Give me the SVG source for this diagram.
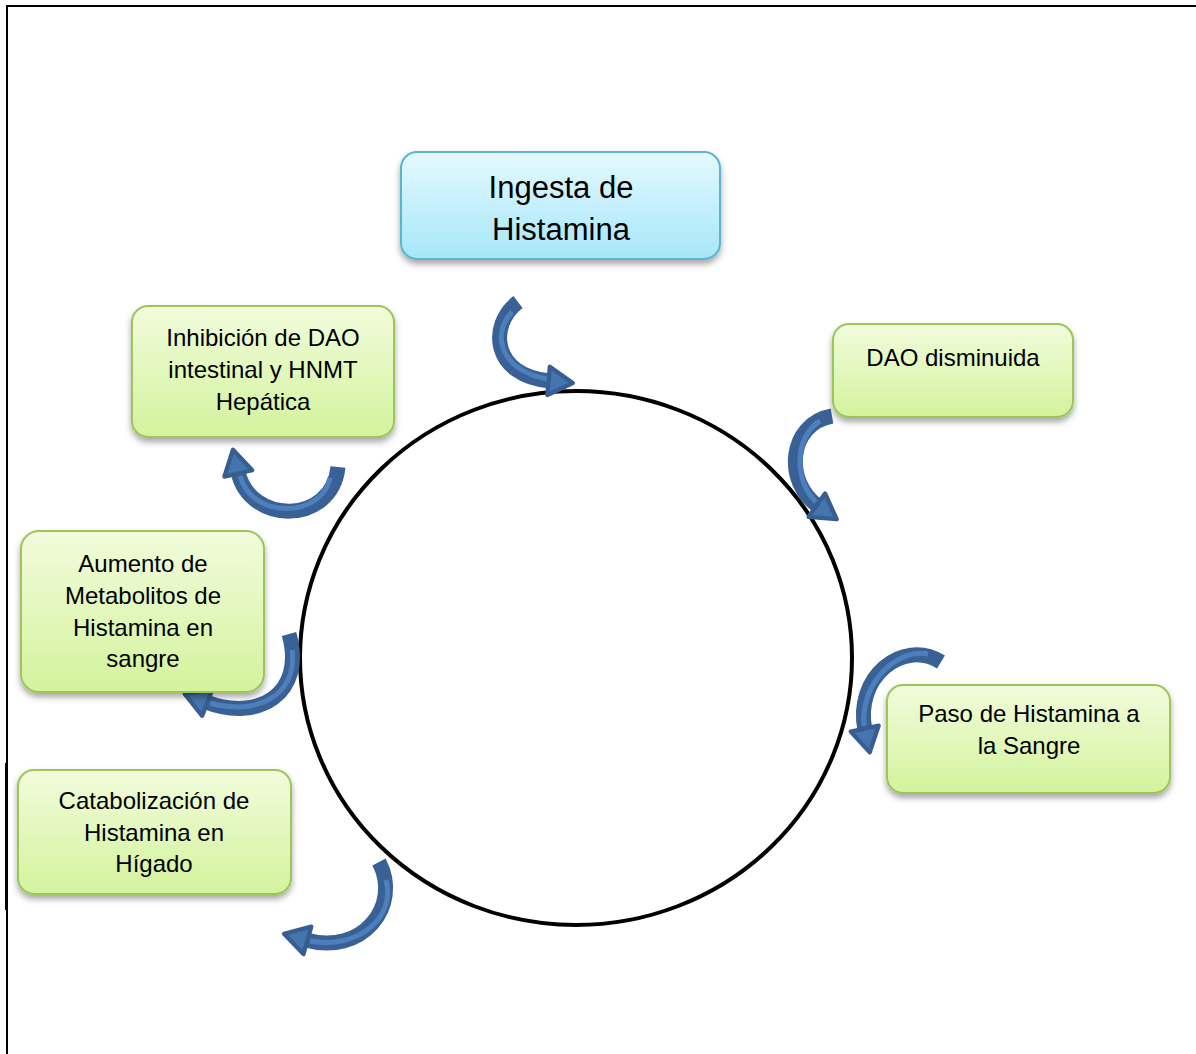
<svg xmlns="http://www.w3.org/2000/svg" width="1196" height="1054" viewBox="0 0 1196 1054">
<defs>
<linearGradient id="gGreen" x1="0" y1="0" x2="0" y2="1">
<stop offset="0" stop-color="#f1fcdc"/>
<stop offset="1" stop-color="#d3f39c"/>
</linearGradient>
<linearGradient id="gBlue" x1="0" y1="0" x2="0" y2="1">
<stop offset="0" stop-color="#e4f9fe"/>
<stop offset="1" stop-color="#a6e7f9"/>
</linearGradient>
<filter id="sh" x="-10%" y="-10%" width="120%" height="130%">
<feDropShadow dx="0" dy="4" stdDeviation="3" flood-color="#000" flood-opacity="0.35"/>
</filter>
<marker id="head" markerUnits="userSpaceOnUse" markerWidth="40" markerHeight="40" viewBox="-2 -14 24 28" refX="1" refY="0" orient="auto">
<path d="M0,-10 L17,0 L0,10 z" fill="#4674ad" stroke="#375e92" stroke-width="3" stroke-linejoin="round"/>
</marker>
<style>
.box{fill:url(#gGreen);stroke:#9cc659;stroke-width:2;filter:url(#sh)}
.bbox{fill:url(#gBlue);stroke:#5ab5cf;stroke-width:2;filter:url(#sh)}
.t{font-family:"Liberation Sans",Arial,sans-serif;font-size:24px;fill:#000;text-anchor:middle}
.tb{font-family:"Liberation Sans",Arial,sans-serif;font-size:31px;fill:#000;text-anchor:middle}
.aout{fill:none;stroke:#3a6196;stroke-width:15;stroke-linecap:butt}
.ain{fill:none;stroke:#4d7fbc;stroke-width:5;stroke-linecap:butt}
</style>
</defs>
<rect width="1196" height="1054" fill="#fff"/>
<path d="M7,1054 V6 H1196" fill="none" stroke="#000" stroke-width="2"/>
<line x1="6.5" y1="763" x2="6.5" y2="910" stroke="#000" stroke-width="3"/>
<ellipse cx="576" cy="658" rx="276" ry="267" fill="none" stroke="#000" stroke-width="4"/>
<g id="connectors">
<path class="aout" d="M518,302 C488,325 492,376 550,381" marker-end="url(#head)"/>
<path class="ain" d="M512,312 C492,332 498,370 547,379"/>
<path class="aout" d="M832,416 C788,424 784,482 818,506" marker-end="url(#head)"/>
<path class="ain" d="M820,421 C795,436 793,480 816,502"/>
<path class="aout" d="M941,662 C902,638 854,678 865,730" marker-end="url(#head)"/>
<path class="ain" d="M928,654 C896,648 860,684 864,726"/>
<path class="aout" d="M338,467 C332,525 250,525 238,472" marker-end="url(#head)"/>
<path class="ain" d="M330,478 C322,518 252,520 240,476"/>
<path class="aout" d="M289,634 C306,694 258,722 206,702" marker-end="url(#head)"/>
<path class="ain" d="M292,650 C298,696 256,716 210,703"/>
<path class="aout" d="M379,862 C402,906 362,956 306,940" marker-end="url(#head)"/>
<path class="ain" d="M386,880 C396,916 360,950 310,941"/>
</g>
<g id="n-ingesta">
<rect class="bbox" x="401" y="152" width="319" height="107" rx="16"/>
<text class="tb" x="561" y="198">Ingesta de</text>
<text class="tb" x="561" y="240">Histamina</text>
</g>
<g id="n-inhibicion">
<rect class="box" x="132" y="306" width="262" height="131" rx="16"/>
<text class="t" x="263" y="346">Inhibición de DAO</text>
<text class="t" x="263" y="378">intestinal y HNMT</text>
<text class="t" x="263" y="410">Hepática</text>
</g>
<g id="n-dao">
<rect class="box" x="833" y="324" width="240" height="93" rx="16"/>
<text class="t" x="953" y="366">DAO disminuida</text>
</g>
<g id="n-aumento">
<rect class="box" x="21" y="531" width="243" height="161" rx="18"/>
<text class="t" x="143" y="572">Aumento de</text>
<text class="t" x="143" y="604">Metabolitos de</text>
<text class="t" x="143" y="636">Histamina en</text>
<text class="t" x="143" y="667">sangre</text>
</g>
<g id="n-paso">
<rect class="box" x="887" y="685" width="283" height="108" rx="16"/>
<text class="t" x="1029" y="722">Paso de Histamina a</text>
<text class="t" x="1029" y="754">la Sangre</text>
</g>
<g id="n-catab">
<rect class="box" x="18" y="770" width="273" height="124" rx="16"/>
<text class="t" x="154" y="809">Catabolización de</text>
<text class="t" x="154" y="841">Histamina en</text>
<text class="t" x="154" y="872">Hígado</text>
</g>
</svg>
